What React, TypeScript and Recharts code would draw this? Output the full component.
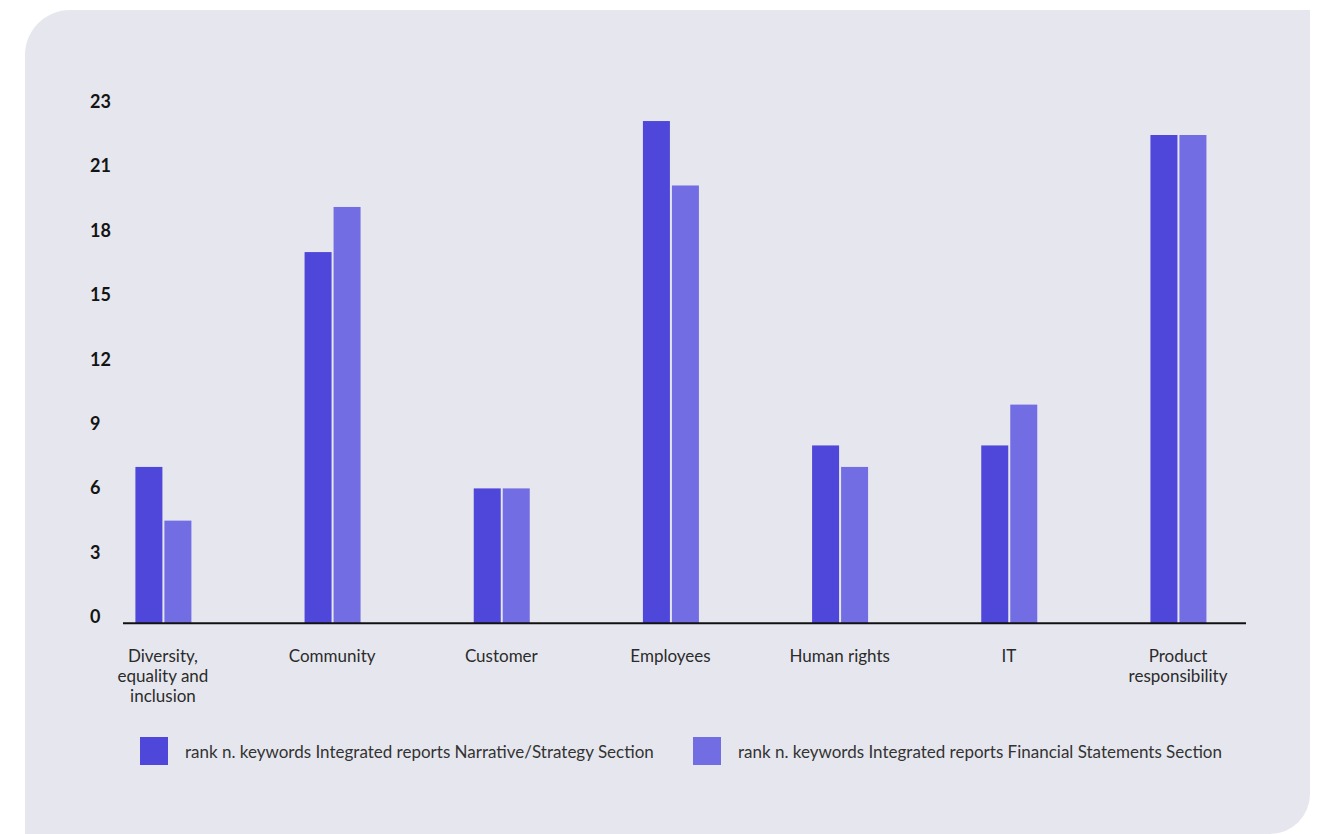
import React from "react";
import { BarChart, Bar, XAxis, YAxis, Legend } from "recharts";

const categories = [
  "Diversity, equality and inclusion",
  "Community",
  "Customer",
  "Employees",
  "Human rights",
  "IT",
  "Product responsibility",
];
const narrativeValues = [7, 17, 6, 23.1, 8, 8, 22.45];
const financialValues = [4.5, 19.1, 6, 20.1, 7, 9.9, 22.45];
const yTicks = [0, 3, 6, 9, 12, 15, 18, 21, 24];
const yTickLabels = ["0", "3", "6", "9", "12", "15", "18", "21", "23"];
const seriesNames = [
  "rank n. keywords Integrated reports Narrative/Strategy Section",
  "rank n. keywords Integrated reports Financial Statements Section",
];

const data = categories.map((c, i) => ({
  category: c,
  narrative: narrativeValues[i],
  financial: financialValues[i],
}));

const COLOR_A = "#4F47D9";
const COLOR_B = "#726DE3";
const FONT = "Lato, 'Open Sans', sans-serif";
const BAR_EXTEND = 6;

function wrapLabel(s: string, max: number): string[] {
  const words = s.split(" ");
  const lines: string[] = [];
  let cur = "";
  for (const w of words) {
    const next = cur ? cur + " " + w : w;
    if (next.length > max && cur) {
      lines.push(cur);
      cur = w;
    } else {
      cur = next;
    }
  }
  if (cur) lines.push(cur);
  return lines;
}

const CategoryTick = (props: any) => {
  const { x, y, payload } = props;
  const lines = wrapLabel(String(payload.value), 13);
  return (
    <text x={x} y={y} textAnchor="middle" fill="#2b2b2b" fontSize={17} fontFamily={FONT}>
      {lines.map((l, i) => (
        <tspan key={i} x={x} dy={i === 0 ? 39 : 20}>
          {l}
        </tspan>
      ))}
    </text>
  );
};

const ValueTick = (props: any) => {
  const { y, index } = props;
  return (
    <text x={90} y={y} dy={6} textAnchor="start" fill="#141414" fontSize={18} fontWeight={700} fontFamily={FONT}>
      {yTickLabels[index]}
    </text>
  );
};

const BarShape = (props: any) => {
  const { x, y, width, height, fill } = props;
  if (height == null) return null;
  return <rect x={x} y={y} width={width} height={height + BAR_EXTEND} fill={fill} />;
};

const renderLegend = (props: any) => {
  const payload = [...(props.payload || [])].sort(
    (a: any, b: any) => seriesNames.indexOf(a.value) - seriesNames.indexOf(b.value)
  );
  return (
    <div
      style={{
        display: "flex",
        alignItems: "center",
        paddingLeft: 140,
        height: 28,
        fontFamily: FONT,
        fontSize: 17,
        color: "#333",
        whiteSpace: "nowrap",
      }}
    >
      {payload.map((e: any, i: number) => (
        <div key={i} style={{ display: "flex", alignItems: "center", width: i === 0 ? 553 : "auto", flex: "none" }}>
          <span style={{ display: "inline-block", width: 28, height: 28, background: e.color, marginRight: 17, flex: "none" }} />
          <span>{e.value}</span>
        </div>
      ))}
    </div>
  );
};

export default function App() {
  return (
    <div style={{ position: "absolute", left: 0, top: 0, width: 1322, height: 834, background: "#fff", overflow: "hidden" }}>
      <div
        style={{
          position: "absolute",
          left: 25,
          top: 10,
          width: 1285,
          height: 824,
          background: "#E6E7EE",
          borderRadius: "45px 0 40px 0",
        }}
      />
      <div style={{ position: "absolute", left: 0, top: 0 }}>
        <BarChart
          width={1322}
          height={834}
          data={data}
          margin={{ top: 101.7, right: 76, bottom: 82.7, left: 78 }}
          barGap={2}
          barSize={27}
        >
          <XAxis
            dataKey="category"
            axisLine={{ stroke: "#111", strokeWidth: 2 }}
            tickLine={false}
            tickSize={0}
            tickMargin={0}
            interval={0}
            height={100}
            padding={{ left: -44.6, right: -16.6 }}
            tick={<CategoryTick />}
          />
          <YAxis
            type="number"
            domain={[0, 24]}
            ticks={yTicks}
            interval={0}
            axisLine={false}
            tickLine={false}
            width={45}
            padding={{ top: 0, bottom: BAR_EXTEND }}
            tick={<ValueTick />}
          />
          <Legend
            verticalAlign="bottom"
            align="left"
            wrapperStyle={{ top: 737, left: 0, width: 1322, height: 28, bottom: "auto" }}
            content={renderLegend}
          />
          <Bar dataKey="narrative" name={seriesNames[0]} fill={COLOR_A} isAnimationActive={false} shape={<BarShape />} />
          <Bar dataKey="financial" name={seriesNames[1]} fill={COLOR_B} isAnimationActive={false} shape={<BarShape />} />
        </BarChart>
      </div>
    </div>
  );
}
